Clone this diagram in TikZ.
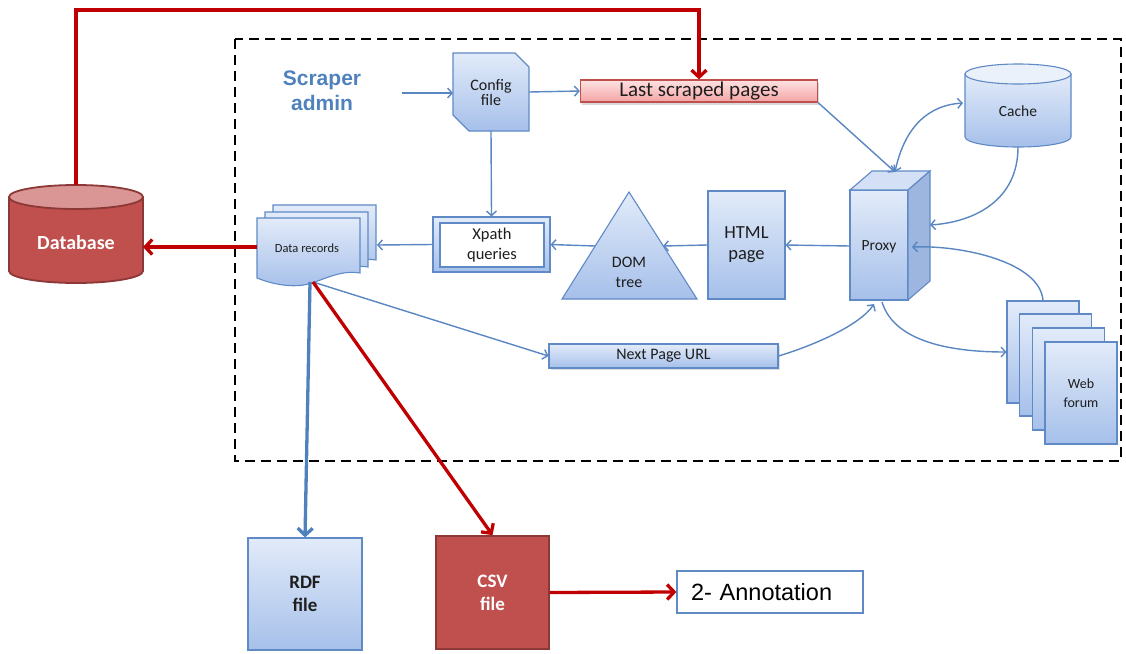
\documentclass[tikz,border=0pt]{standalone}
\usepackage{fontspec}
\setmainfont{Carlito}
\newfontfamily\arialf{Liberation Sans}
\usetikzlibrary{arrows.meta,shadows}
\definecolor{bfTop}{HTML}{E2EBF9}
\definecolor{bfBot}{HTML}{A6C0EA}
\definecolor{bBorder}{HTML}{5F8AC6}
\definecolor{bLine}{HTML}{5A86C2}
\definecolor{dbRed}{HTML}{C0504D}
\definecolor{dbBorder}{HTML}{8C3836}
\definecolor{dbTop}{HTML}{D99694}
\definecolor{aRed}{HTML}{C00000}
\definecolor{pinkTop}{HTML}{FFE2E2}
\definecolor{pinkBot}{HTML}{F4A4A4}
\definecolor{saBlue}{HTML}{4F81BD}
\definecolor{thickBlue}{HTML}{4F81BD}
\definecolor{txt}{HTML}{1E1E1E}
\definecolor{proxyTop}{HTML}{D3E0F5}
\definecolor{proxySide}{HTML}{9DB6DF}
\definecolor{cacheTop}{HTML}{EAF1FB}
\begin{document}
\begin{tikzpicture}[x=1pt,y=-1pt,
  bshape/.style={top color=bfTop,bottom color=bfBot,draw=bBorder,line width=1.1pt},
  rshape/.style={fill=dbRed,draw=dbBorder,line width=1.8pt},
  thinarrow/.style={draw=bLine,line width=1.4pt,-{Straight Barb[length=4.5pt,width=10pt]}},
  boththin/.style={draw=bLine,line width=1.4pt,{Straight Barb[length=4.5pt,width=10pt]}-{Straight Barb[length=4.5pt,width=10pt]}},
  redarrow/.style={draw=aRed,line width=3.3pt,-{Straight Barb[length=7pt,width=15pt]}},
  bluearrow/.style={draw=thickBlue,line width=3.3pt,-{Straight Barb[length=7pt,width=15pt]}},
  lbl/.style={text=txt,align=center,inner sep=0pt},
]
\useasboundingbox (0,0) rectangle (1126,653);

% scraper frame
\draw[line width=2.2pt,dash pattern=on 10pt off 6pt] (235,39) rectangle (1121,461);

% ---------- Database cylinder ----------
\path[rshape] (9,197) -- (9,271) .. controls (9,277.6) and (39,283) .. (76,283)
  .. controls (113,283) and (143,277.6) .. (143,271) -- (143,197) -- cycle;
\path[fill=dbTop,draw=dbBorder,line width=1.8pt] (76,197) ellipse [x radius=67pt,y radius=12pt];
\node[lbl,text=white,font=\fontsize{20}{22}\selectfont\bfseries] (db) at (76,243) {Database};
\coordinate (dbtop) at (76,185);
\coordinate (dbE) at (143,247);

% ---------- Cache cylinder ----------
\path[bshape] (965,74) -- (965,137) .. controls (965,142.5) and (988.7,147) .. (1018,147)
  .. controls (1047.3,147) and (1071,142.5) .. (1071,137) -- (1071,74) -- cycle;
\path[fill=cacheTop,draw=bBorder,line width=1.1pt] (1018,74) ellipse [x radius=53pt,y radius=10pt];
\node[lbl,font=\fontsize{15.5}{17}\selectfont] (cache) at (1018,111) {Cache};
\coordinate (cacheW) at (963,103);
\coordinate (cacheS) at (1018,147);

% ---------- Scraper admin ----------
\node[lbl,text=saBlue,font=\arialf\bfseries\fontsize{21}{25}\selectfont] (sadmin) at (322,91) {Scraper\\admin};
\coordinate (saout) at (402,93);

% ---------- Config file ----------
\path[bshape] (453,53) -- (515,53) -- (529,67) -- (529,131) -- (469,131) -- (453,115) -- cycle;
\node[lbl,font=\fontsize{16}{15}\selectfont] (cfg) at (491,93) {Config\\file};
\coordinate (cfgW) at (453,93);
\coordinate (cfgE) at (529,92);
\coordinate (cfgS) at (491,131);

% ---------- Last scraped pages ----------
\node[top color=pinkTop,bottom color=pinkBot,draw=dbRed,line width=1.3pt,
  minimum width=237pt,minimum height=22pt,inner sep=0pt,text=txt,
  font=\fontsize{21}{22}\selectfont,
  drop shadow={shadow xshift=1.5pt,shadow yshift=-2.5pt,opacity=0.3}] (lsp) at (699,91) {Last scraped pages};

% ---------- Proxy ----------
\path[bshape] (850,190) rectangle (908,300);
\path[fill=proxyTop,draw=bBorder,line width=1.1pt] (850,190) -- (872,171) -- (930,171) -- (908,190) -- cycle;
\path[fill=proxySide,draw=bBorder,line width=1.1pt] (908,190) -- (930,171) -- (930,281) -- (908,300) -- cycle;
\node[lbl,font=\fontsize{15.5}{17}\selectfont] (proxy) at (879,247) {Proxy};
\coordinate (proxyTop) at (895,172);
\coordinate (proxyR) at (930,225);
\coordinate (proxyR2) at (912,247);
\coordinate (proxyW) at (850,246);
\coordinate (proxyB) at (882,302);
\coordinate (proxyB2) at (874,304);

% ---------- HTML page ----------
\node[bshape,minimum width=77pt,minimum height=108pt,lbl,font=\fontsize{18.5}{21}\selectfont] (html) at (746.5,245) {HTML\\page};

% ---------- DOM tree ----------
\path[bshape] (629,192) -- (697,299) -- (562,299) -- cycle;
\node[lbl,font=\fontsize{16}{20}\selectfont] (dom) at (629,272) {DOM\\tree};
\coordinate (domL) at (595,246);
\coordinate (domR) at (663,246);

% ---------- Xpath queries ----------
\node[bshape,minimum width=117pt,minimum height=55pt] (xpath) at (491.5,244.5) {};
\path[fill=white,draw=bBorder,line width=1.1pt] (440,223) rectangle (544,267);
\node[lbl,font=\fontsize{16.5}{20}\selectfont] (xpathtxt) at (492,245) {Xpath\\queries};

% ---------- Data records ----------
\foreach \dx/\dy in {273/205,265/212,257/218}{
  \path[bshape,shift={(\dx,\dy)}] (0,0) -- (103,0) -- (103,55) .. controls (85,52) and (70,60) .. (55,65)
    .. controls (40,70) and (20,68) .. (0,60) -- cycle;
}
\node[lbl,font=\fontsize{12.5}{14}\selectfont] (drec) at (307,248) {Data records};
\coordinate (drE) at (377,245);
\coordinate (drW) at (257,247);
\coordinate (drout) at (310,282);
\coordinate (drout2) at (313,282);

% ---------- Next Page URL ----------
\node[bshape,minimum width=229pt,minimum height=24pt,lbl,font=\fontsize{16}{17}\selectfont,
  drop shadow={shadow xshift=1.5pt,shadow yshift=-2pt,opacity=0.25}] (npu) at (663.5,356) {Next Page URL};

% ---------- Web forum ----------
\node[bshape,minimum width=72pt,minimum height=102pt] (wf1) at (1043,352) {};
\node[bshape,minimum width=72pt,minimum height=102pt] (wf2) at (1055.5,365) {};
\node[bshape,minimum width=72pt,minimum height=102pt] (wf3) at (1068.5,379) {};
\node[bshape,minimum width=72pt,minimum height=102pt,lbl,font=\fontsize{14}{19}\selectfont] (wf4) at (1081,393) {Web\\forum};

% ---------- RDF / CSV / Annotation ----------
\node[bshape,minimum width=114pt,minimum height=112pt,lbl,font=\fontsize{19}{23}\selectfont\bfseries] (rdf) at (305,594) {RDF\\file};
\node[rshape,minimum width=113pt,minimum height=113pt,lbl,text=white,font=\fontsize{19}{23}\selectfont\bfseries] (csv) at (492.5,592.5) {CSV\\file};
\node[draw=bBorder,line width=1.3pt,fill=white,minimum width=186pt,minimum height=42pt,
  inner xsep=14pt,text width=158pt,align=left,text=black,font=\arialf\fontsize{23.5}{24}\selectfont] (ann) at (770,592) {2-~Annotation};

% ---------- connectors ----------
\draw[redarrow] (dbtop) -- (76,10) -| (lsp.north);
\draw[thinarrow] (saout) -- (cfgW);
\draw[thinarrow] (cfgE) -- (lsp.west);
\draw[thinarrow] (cfgS) -- (xpath.north);
\draw[thinarrow] (lsp.south east) -- (proxyTop);
\draw[boththin] (proxyTop) .. controls (905,125) and (930,105) .. (cacheW);
\draw[thinarrow] (cacheS) .. controls (1018,200) and (975,222) .. (proxyR);
\draw[thinarrow] (wf1.north) .. controls (1040,262) and (962,245) .. (proxyR2);
\draw[thinarrow] (proxyB) .. controls (895,345) and (960,352) .. (wf1.west);
\draw[thinarrow] (proxyW) -- (html.east);
\draw[thinarrow] (html.west) -- (domR);
\draw[thinarrow] (domL) -- (xpath.east);
\draw[thinarrow] (xpath.west) -- (drE);
\draw[thinarrow] (drout2) -- (npu.west);
\draw[thinarrow] (npu.east) .. controls (815,345) and (860,325) .. (proxyB2);
\draw[redarrow] (drW) -- (dbE);
\draw[bluearrow] (drout) -- (rdf.north);
\draw[redarrow] (drout2) -- (csv.north);
\draw[redarrow] (csv.east) -- (ann.west);
\end{tikzpicture}
\end{document}
